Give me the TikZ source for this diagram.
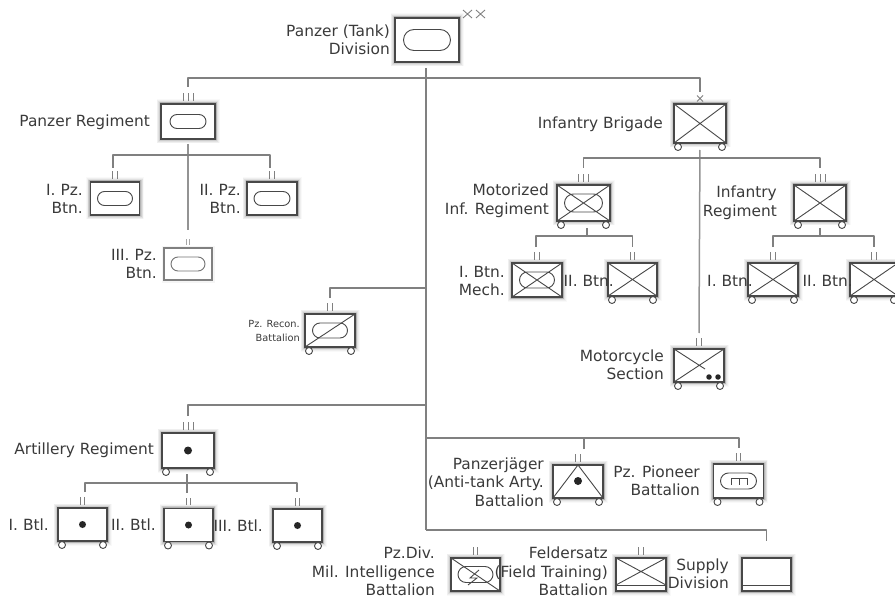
\documentclass[tikz,border=0pt]{standalone}
\usepackage{fontspec}
\setmainfont{DejaVu Sans}
\usetikzlibrary{shapes.misc,calc}
\definecolor{ink}{HTML}{484848}
\definecolor{txt}{HTML}{3A3A3A}
\definecolor{bus}{HTML}{808080}
\tikzset{
  softshadow/.style={
    preaction={draw=black,opacity=.025,line width=9pt},
    preaction={draw=black,opacity=.04,line width=7.5pt},
    preaction={draw=black,opacity=.06,line width=6pt},
    preaction={draw=black,opacity=.09,line width=4.5pt},
    preaction={draw=black,opacity=.12,line width=3pt}},
  unitbox/.style={draw=ink,line width=1.3pt,fill=white,inner sep=0pt,outer sep=0pt,softshadow},
  fadedbox/.style={draw=black!50,line width=1.3pt,fill=white,inner sep=0pt,outer sep=0pt,
    preaction={draw=black,opacity=.04,line width=5pt}},
  pill/.style={draw=ink,line width=.9pt,rounded rectangle,inner sep=0pt,outer sep=0pt},
  wheel/.style={circle,draw=ink,line width=.9pt,fill=white,minimum size=7pt,inner sep=0pt},
  link/.style={draw=bus,line width=1.2pt,line join=round},
  sym/.style={draw=ink,line width=.9pt},
  tickm/.style={draw=bus,line width=1pt},
  dotm/.style={circle,fill=black!85,inner sep=0pt,outer sep=0pt},
  lab/.style={align=right,anchor=east,text=txt,font=\fontsize{15.4}{18.5}\selectfont,inner sep=0pt},
  smalllab/.style={lab,font=\fontsize{9.8}{14}\selectfont}
}
% name, cx, cy, w, h
\newcommand{\Unit}[5]{\node[unitbox,minimum width=#4pt,minimum height=#5pt] (#1) at (#2,#3) {};}
\newcommand{\Wheels}[1]{%
  \node[wheel] (#1-wl) at ([xshift=4pt,yshift=-4pt]#1.south west) {};
  \node[wheel] (#1-wr) at ([xshift=-4pt,yshift=-4pt]#1.south east) {};
  }
\newcommand{\MarksII}[1]{%
  \draw[tickm] ([xshift=-2.2pt,yshift=3.2pt]#1.north) -- ++(0,-7.5);
  \draw[tickm] ([xshift=2.2pt,yshift=3.2pt]#1.north) -- ++(0,-7.5);
  \coordinate (#1-in) at ([yshift=16pt]#1.north);}
\newcommand{\MarksIII}[1]{%
  \draw[tickm] ([xshift=-5pt,yshift=2.8pt]#1.north) -- ++(0,-8.5);
  \draw[tickm] ([yshift=2.8pt]#1.north) -- ++(0,-8.5);
  \draw[tickm] ([xshift=5pt,yshift=2.8pt]#1.north) -- ++(0,-8.5);
  \coordinate (#1-in) at ([yshift=17pt]#1.north);}
\newcommand{\Cross}[1]{\draw[sym] (#1.north west) -- (#1.south east) (#1.south west) -- (#1.north east);}
\newcommand{\Pill}[4]{\node[pill,minimum width=#3pt,minimum height=#4pt] (#1) at (#2) {};}
\begin{document}
\begin{tikzpicture}[x=1pt,y=-1pt]
\useasboundingbox (0,0) rectangle (895,599);
% ---- units
\node[unitbox,line width=2.4pt,minimum width=64pt,minimum height=44pt] (div) at (427,40) {};
\Pill{div-p}{div}{47}{21}
\draw[sym,draw=bus] (463,10) -- ++(9,8) (463,18) -- ++(9,-8) (476,10) -- ++(9,8) (476,18) -- ++(9,-8);

\Unit{pzreg}{188}{121.5}{54}{35}
\Pill{pzreg-p}{pzreg}{36}{14}
\MarksIII{pzreg}
\Unit{pzi}{115}{198.5}{49}{33}
\Pill{pzi-p}{pzi}{35}{14}
\MarksII{pzi}
\Unit{pzii}{272}{198.5}{50}{33}
\Pill{pzii-p}{pzii}{36}{14}
\MarksII{pzii}
\node[fadedbox,minimum width=48pt,minimum height=32pt] (pziii) at (188,264) {};
\node[pill,draw=black!55,minimum width=34pt,minimum height=14pt] (pziii-p) at (pziii) {};
\draw[tickm,draw=black!35] ([xshift=-1.5pt,yshift=3.5pt]pziii.north) -- ++(0,-6);
\draw[tickm,draw=black!35] ([xshift=1.5pt,yshift=3.5pt]pziii.north) -- ++(0,-6);
\coordinate (pziii-in) at ([yshift=18pt]pziii.north);

\Unit{infbri}{700}{123.5}{52}{39}
\Wheels{infbri}
\Cross{infbri}
\draw[tickm] (697,95.5) -- ++(6,6) (697,101.5) -- ++(6,-6);
\coordinate (infbri-in) at (700,92);

\Unit{motreg}{583.5}{203}{53}{36}
\Wheels{motreg}
\Pill{motreg-p}{motreg}{38}{18}
\Cross{motreg}
\MarksIII{motreg}
\Unit{btni}{537}{280}{50}{34}
\Pill{btni-p}{btni}{35}{16}
\Cross{btni}
\MarksII{btni}
\Unit{btnii}{632.5}{279.5}{49}{33}
\Wheels{btnii}
\Cross{btnii}
\MarksII{btnii}

\Unit{infreg}{820}{203}{52}{36}
\Wheels{infreg}
\Cross{infreg}
\MarksIII{infreg}
\Unit{ibtni}{773}{279.5}{50}{33}
\Wheels{ibtni}
\Cross{ibtni}
\MarksII{ibtni}
\Unit{ibtnii}{874}{279.5}{48}{33}
\Wheels{ibtnii}
\Cross{ibtnii}
\MarksII{ibtnii}

\Unit{recon}{330}{330.5}{50}{33}
\Wheels{recon}
\Pill{recon-p}{recon}{35}{15}
\draw[sym] (recon.south west) -- (recon.north east);
\MarksII{recon}

\Unit{moto}{699}{365.5}{50}{33}
\Wheels{moto}
\draw[sym] (moto.south west) -- (moto.north east) (moto.north west) -- (705,369);
\node[dotm,minimum size=5.5pt] (moto-d1) at (709,377) {};
\node[dotm,minimum size=5.5pt] (moto-d2) at (718,377) {};
\MarksII{moto}

\Unit{art}{188}{450.5}{52}{35}
\Wheels{art}
\node[dotm,minimum size=8pt] (art-d) at (art) {};
\MarksIII{art}
\Unit{btli}{82.5}{524.5}{49}{33}
\Wheels{btli}
\node[dotm,minimum size=7pt] (btli-d) at (btli) {};
\MarksII{btli}
\Unit{btlii}{188.5}{525}{49}{33}
\Wheels{btlii}
\node[dotm,minimum size=7pt] (btlii-d) at (btlii) {};
\MarksII{btlii}
\Unit{btliii}{297.5}{525.5}{49}{33}
\Wheels{btliii}
\node[dotm,minimum size=7pt] (btliii-d) at (btliii) {};
\MarksII{btliii}

\Unit{jag}{578}{481.5}{50}{33}
\Wheels{jag}
\draw[sym] (jag.south west) -- (jag.north) -- (jag.south east);
\node[dotm,minimum size=8pt] (jag-d) at (578,481) {};
\MarksII{jag}
\Unit{pio}{738.5}{481}{50}{34}
\Wheels{pio}
\Pill{pio-p}{pio}{36}{16}
\draw[sym,line width=.8pt] (731,484.5) -- (731,478) -- (747,478) -- (747,484.5) (739,478) -- (739,484.5);
\MarksII{pio}

\Unit{intel}{475.5}{574.5}{49}{33}
\Pill{intel-p}{intel}{35}{16}
\draw[sym] (intel.north west) -- (intel.south east);
\draw[sym] (479,570) -- (470,578) -- (477,578) -- (468,585);
\MarksII{intel}
\Unit{feld}{641}{574.5}{50}{33}
\draw[sym] (feld.north west) -- ($(feld.south east)+(0,-6)$) (feld.north east) -- ($(feld.south west)+(0,-6)$);
\draw[sym] ($(feld.south west)+(0,-6)$) -- ($(feld.south east)+(0,-6)$);
\MarksII{feld}
\Unit{sup}{766.5}{574.5}{49}{33}
\draw[sym] ($(sup.south west)+(0,-6)$) -- ($(sup.south east)+(0,-6)$);
\coordinate (sup-in) at (766.5,541);

% ---- connectors
\coordinate (trunkend) at (426,530);
\coordinate (busTop) at (426,78);
\coordinate (busRecon) at (426,288);
\coordinate (busArt) at (426,405);
\coordinate (busJag) at (426,438);
\coordinate (dropJag) at (584,449);
\coordinate (dropPio) at (739,448);
\draw[link] (div.south -| trunkend) ++(0,6) -- (trunkend);
\draw[link] (pzreg-in) |- (busTop) -| (infbri-in);
\draw[link] (recon-in) |- (busRecon);
\draw[link] (art-in) |- (busArt);
\draw[link] (busJag) -| (dropPio);
\draw[link] (dropJag) |- (busJag);
\draw[link] (trunkend) -| (sup-in);
% panzer regiment
\coordinate (busPz) at (188,155);
\coordinate (dropPzi) at (113,168);
\coordinate (dropPzii) at (270,168);
\draw[link,line width=1.6pt,draw=bus!85,shorten <=5pt] (pzreg.south) -- (pziii-in);
\draw[link] (dropPzi) |- (busPz) -| (dropPzii);
% infantry brigade
\coordinate (busBri) at (700,158);
\draw[link,line width=1.5pt,draw=bus!85,shorten <=7pt] (infbri.south) -- (moto-in);
\draw[link] (motreg-in) |- (busBri) -| (infreg-in);
\coordinate (busMot) at (587,236);
\coordinate (dropBtni) at (536,247);
\draw[link,shorten <=7pt] (motreg.south -| busMot) -- (busMot);
\draw[link] (dropBtni) |- (busMot) -| (btnii-in);
\coordinate (busInf) at (820,236);
\draw[link,shorten <=7pt] (infreg.south) -- (busInf);
\draw[link] (ibtni-in) |- (busInf) -| (ibtnii-in);
% artillery
\coordinate (busBtl) at (187,483);
\coordinate (dropBtli) at (85,492);
\coordinate (dropBtliii) at (297,492);
\draw[link,shorten <=6pt] (art.south -| busBtl) -- (busBtl |- btlii-in);
\draw[link] (dropBtli) |- (busBtl) -| (dropBtliii);

% ---- labels
\node[lab] (t-div) at (390,40) {Panzer (Tank)\\Division};
\node[lab] (t-pzreg) at (150,122) {Panzer Regiment};
\node[lab] (t-pzi) at (83,199) {I. Pz.\\Btn.};
\node[lab] (t-pzii) at (241,199) {II. Pz.\\Btn.};
\node[lab] (t-pziii) at (157,264) {III. Pz.\\Btn.};
\node[lab] (t-infbri) at (663,124) {Infantry Brigade};
\node[lab] (t-motreg) at (549,201) {Motorized\\Inf. Regiment};
\node[lab] (t-infreg) at (777,203) {Infantry\\Regiment};
\node[lab] (t-btni) at (505,281) {I. Btn.\\Mech.};
\node[lab] (t-btnii) at (614,281) {II. Btn.};
\node[lab] (t-ibtni) at (753,281) {I. Btn.};
\node[lab] (t-ibtnii) at (853,281) {II. Btn.};
\node[smalllab] (t-recon) at (300,331) {Pz. Recon.\\Battalion};
\node[lab] (t-moto) at (664,365) {Motorcycle\\Section};
\node[lab] (t-art) at (154,450) {Artillery Regiment};
\node[lab] (t-btli) at (49,525) {I. Btl.};
\node[lab] (t-btlii) at (156,525) {II. Btl.};
\node[lab] (t-btliii) at (263,526) {III. Btl.};
\node[lab] (t-jag) at (544,482) {Panzerjäger\\(Anti-tank Arty.\\Battalion};
\node[lab] (t-pio) at (700,481) {Pz. Pioneer\\Battalion};
\node[lab] (t-intel) at (435,571.5) {Pz.Div.\\Mil. Intelligence\\Battalion};
\node[lab] (t-feld) at (608,571.5) {Feldersatz\\(Field Training)\\Battalion};
\node[lab] (t-sup) at (729,574) {Supply\\Division};
\end{tikzpicture}
\end{document}
